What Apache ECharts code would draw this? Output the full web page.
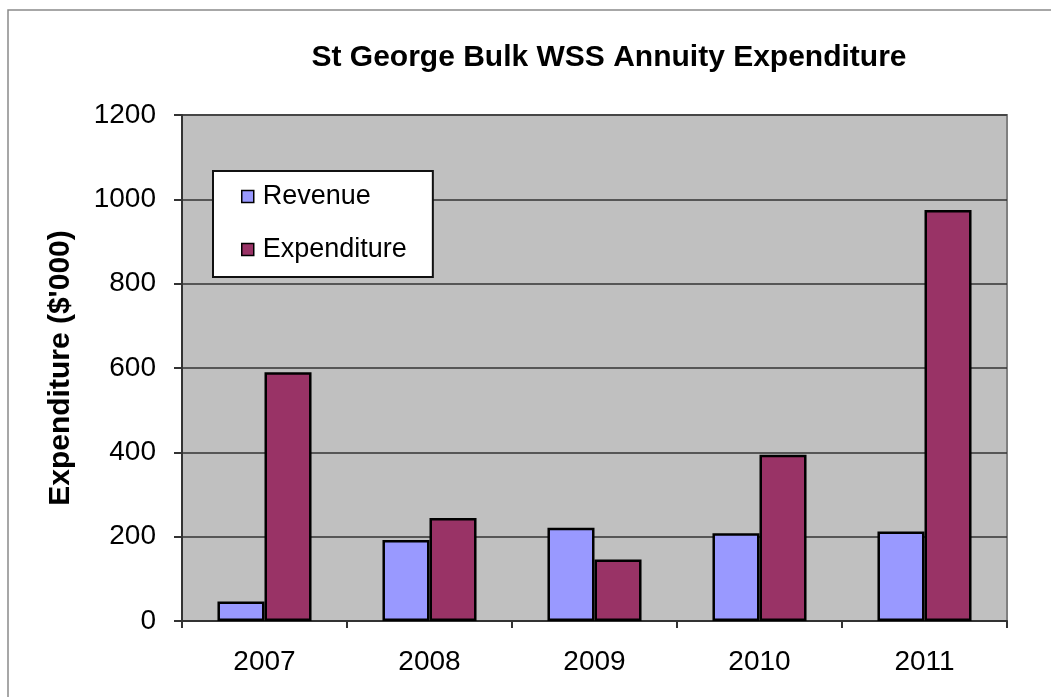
<!DOCTYPE html>
<html>
<head>
<meta charset="utf-8">
<title>St George Bulk WSS Annuity Expenditure</title>
<script src="https://cdn.jsdelivr.net/npm/echarts@6/dist/echarts.min.js"></script>
<style>
  html, body { margin: 0; padding: 0; background: #ffffff; }
  #chart { width: 1051px; height: 697px; }
</style>
</head>
<body>
<div id="chart"></div>
<script>
// Annual figures, $'000
const years = ['2007', '2008', '2009', '2010', '2011'];
const revenue = [46, 192, 221, 208, 212];
const expenditure = [590, 244, 146, 394, 975];
const yTicks = { min: 0, max: 1200, interval: 200 };

const FONT = '"Liberation Sans", Arial, sans-serif';

const chart = echarts.init(document.getElementById('chart'), null, { renderer: 'canvas' });

chart.setOption({
  backgroundColor: '#ffffff',
  animation: false,
  textStyle: { fontFamily: FONT },
  title: {
    text: 'St George Bulk WSS Annuity Expenditure',
    left: 604,
    top: 38,
    textAlign: 'center',
    textStyle: { fontFamily: FONT, fontSize: 30, fontWeight: 'bold', color: '#000' }
  },
  graphic: [{
    type: 'rect',
    silent: true,
    shape: { x: 8, y: 10, width: 1100, height: 800 },
    style: { fill: 'none', stroke: '#8a8a8a', lineWidth: 1.5 }
  }],
  legend: {
    orient: 'vertical',
    left: 213,
    top: 171,
    padding: [12, 26, 14, 28],
    itemGap: 26,
    itemWidth: 12,
    itemHeight: 12,
    icon: 'rect',
    backgroundColor: '#ffffff',
    borderColor: '#111',
    borderWidth: 2,
    itemStyle: { borderWidth: 1.5, borderColor: '#000' },
    textStyle: { fontFamily: FONT, fontSize: 27, color: '#000', padding: [0, 0, 0, 4] },
    data: ['Revenue', 'Expenditure']
  },
  grid: {
    left: 182, top: 115, right: 44, bottom: 76,
    show: true,
    backgroundColor: '#c0c0c0',
    borderColor: '#808080',
    borderWidth: 2
  },
  xAxis: {
    type: 'category',
    data: years,
    axisLine: { lineStyle: { color: '#333', width: 2 } },
    axisTick: { show: true, length: 7, lineStyle: { color: '#333', width: 2 } },
    axisLabel: { margin: 27, fontFamily: FONT, fontSize: 28, color: '#000' }
  },
  yAxis: {
    type: 'value',
    min: yTicks.min, max: yTicks.max, interval: yTicks.interval,
    name: "Expenditure ($'000)",
    nameLocation: 'middle',
    nameRotate: 90,
    nameGap: 106,
    nameTextStyle: { fontFamily: FONT, fontSize: 30, fontWeight: 'bold', color: '#000' },
    axisLine: { show: true, lineStyle: { color: '#333', width: 2 } },
    axisTick: { show: true, length: 8, lineStyle: { color: '#333', width: 2 } },
    axisLabel: {
      margin: 26, fontFamily: FONT, fontSize: 28, color: '#000',
      formatter: v => String(v)
    },
    splitLine: { show: true, lineStyle: { color: '#333', width: 1.5 } }
  },
  series: [
    {
      name: 'Revenue',
      type: 'bar',
      data: revenue,
      barGap: '0%',
      barCategoryGap: '43%',
      itemStyle: { color: '#9999ff', borderColor: '#000', borderWidth: 2.5 }
    },
    {
      name: 'Expenditure',
      type: 'bar',
      data: expenditure,
      itemStyle: { color: '#993366', borderColor: '#000', borderWidth: 2.5 }
    }
  ]
});
</script>
</body>
</html>
